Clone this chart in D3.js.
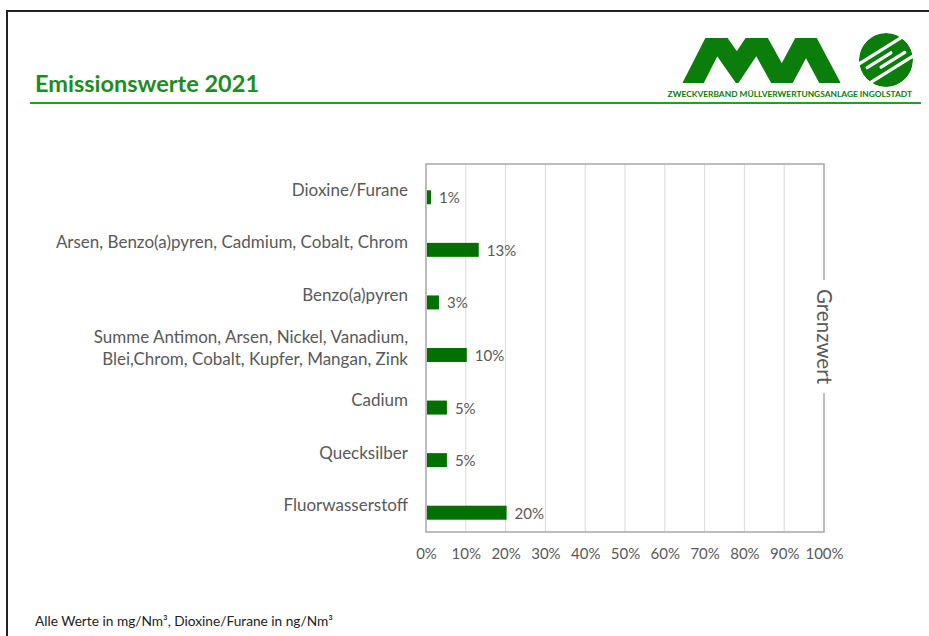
<!DOCTYPE html>
<html>
<head>
<meta charset="utf-8">
<script src="https://cdn.jsdelivr.net/npm/d3@7"></script>
<style>
  body { margin: 0; background: #fff; }
  text { font-family: Lato, "Open Sans", sans-serif; }
</style>
</head>
<body>
<svg id="chart" width="929" height="636"></svg>
<script>
// chart data
var categories = [
  "Dioxine/Furane",
  "Arsen, Benzo(a)pyren, Cadmium, Cobalt, Chrom",
  "Benzo(a)pyren",
  "Summe Antimon, Arsen, Nickel, Vanadium,|Blei,Chrom, Cobalt, Kupfer, Mangan, Zink",
  "Cadium",
  "Quecksilber",
  "Fluorwasserstoff"
];
var values = [1, 13, 3, 10, 5, 5, 20];
var xTicks = [0, 10, 20, 30, 40, 50, 60, 70, 80, 90, 100];
var limitLabel = "Grenzwert";

var svg = d3.select("#chart");
var green = "#1e8c1e", barGreen = "#007000", grey = "#595959", logoGreen = "#0a7d0a";

// page frame
svg.append("path")
  .attr("d", "M7,636 V11 H929")
  .attr("fill", "none")
  .attr("stroke", "#222")
  .attr("stroke-width", 2);

// heading + rule
svg.append("text")
  .attr("x", 35).attr("y", 92)
  .attr("font-size", 23.5).attr("font-weight", "bold")
  .attr("fill", green)
  .text("Emissionswerte 2021");
svg.append("line")
  .attr("x1", 30).attr("x2", 921).attr("y1", 103).attr("y2", 103)
  .attr("stroke", "#2a9a2a").attr("stroke-width", 2);

// logo: MVA as one thick zigzag, clipped flat top and bottom
svg.append("clipPath").attr("id", "mvaclip")
  .append("rect").attr("x", 660).attr("y", 38).attr("width", 200).attr("height", 45);
var zig = [[687, 95], [716, 38], [737, 68], [757, 38], [782, 83], [806, 38], [830, 83], [836, 95]];
svg.append("path")
  .attr("clip-path", "url(#mvaclip)")
  .attr("d", d3.line()(zig))
  .attr("fill", "none")
  .attr("stroke", logoGreen)
  .attr("stroke-width", 19)
  .attr("stroke-linejoin", "miter")
  .attr("stroke-miterlimit", 10);

// round emblem with white stripes
var emb = svg.append("g").attr("transform", "translate(886,60)");
emb.append("circle").attr("r", 27).attr("fill", logoGreen);
var stripe = emb.append("g").attr("transform", "rotate(-32)")
  .attr("stroke", "#fff").attr("stroke-width", 3.2).attr("stroke-linecap", "round");
[[-30, 30, -11], [-20, 8, -3.5], [-8, 20, 3.5], [-30, 30, 11]].forEach(function(s) {
  stripe.append("line").attr("x1", s[0]).attr("x2", s[1]).attr("y1", s[2]).attr("y2", s[2]);
});
emb.append("circle").attr("r", 28.5).attr("fill", "none").attr("stroke", "#fff").attr("stroke-width", 3);

svg.append("text")
  .attr("x", 912).attr("y", 97)
  .attr("text-anchor", "end")
  .attr("font-size", 8.4).attr("font-weight", "bold")
  .attr("fill", logoGreen)
  .text("ZWECKVERBAND MÜLLVERWERTUNGSANLAGE INGOLSTADT");

// plot area
var plotL = 426, plotR = 824, plotT = 164, plotB = 532;

var x = d3.scaleLinear().domain([0, 100]).range([plotL, plotR]);
var y = d3.scaleBand().domain(categories).range([plotT, plotB]).paddingInner(0.468).paddingOuter(0.234);
var barH = y.bandwidth() / 2;

// gridlines
svg.append("g").selectAll("line")
  .data(xTicks.slice(1, -1))
  .join("line")
  .attr("x1", x).attr("x2", x)
  .attr("y1", plotT).attr("y2", plotB)
  .attr("stroke", "#d9d9d9").attr("stroke-width", 1);

// x axis labels
var xAxis = d3.axisBottom(x).tickValues(xTicks).tickFormat(function(d) { return d + "%"; }).tickSize(0).tickPadding(16);
svg.append("g")
  .attr("transform", "translate(0," + plotB + ")")
  .call(xAxis)
  .call(function(g) {
    g.select(".domain").remove();
    g.selectAll("text").attr("font-size", 15).attr("fill", grey).attr("font-family", "Lato, sans-serif");
  });

// plot frame, right edge broken around the limit label
var gapT = 280, gapB = 393;
svg.append("path")
  .attr("d", "M" + plotR + "," + gapT + " V" + plotT + " H" + plotL + " V" + plotB + " H" + plotR + " V" + gapB)
  .attr("stroke", "#a6a6a6").attr("stroke-width", 1.5).attr("fill", "none");

svg.append("text")
  .attr("transform", "translate(" + (plotR - 7) + "," + ((gapT + gapB) / 2) + ") rotate(90)")
  .attr("text-anchor", "middle")
  .attr("font-size", 20.5)
  .attr("fill", grey)
  .text(limitLabel);

// bars
svg.append("g").selectAll("rect")
  .data(values)
  .join("rect")
  .attr("x", x(0) + 1)
  .attr("y", function(d, i) { return y(categories[i]) + barH; })
  .attr("width", function(d) { return x(d) - x(0); })
  .attr("height", barH)
  .attr("fill", barGreen);

// value labels
svg.append("g").selectAll("text")
  .data(values)
  .join("text")
  .attr("x", function(d) { return x(d) + 9; })
  .attr("y", function(d, i) { return y(categories[i]) + barH * 1.5 + 6; })
  .attr("font-size", 15)
  .attr("fill", grey)
  .text(function(d) { return d + "%"; });

// category labels
var catG = svg.append("g").selectAll("text")
  .data(categories)
  .join("text")
  .attr("text-anchor", "end")
  .attr("font-size", 17)
  .attr("fill", grey);
catG.each(function(c) {
  var lines = c.split("|");
  var cy = y(c) + y.bandwidth() / 2;
  var t = d3.select(this);
  lines.forEach(function(l, j) {
    t.append("tspan")
      .attr("x", 408)
      .attr("y", cy + 5.5 + (j - (lines.length - 1) / 2) * 22)
      .text(l);
  });
});

// footnote
svg.append("text")
  .attr("x", 35).attr("y", 626)
  .attr("font-size", 13.7)
  .attr("fill", "#222")
  .text("Alle Werte in mg/Nm³, Dioxine/Furane in ng/Nm³");
</script>
</body>
</html>
